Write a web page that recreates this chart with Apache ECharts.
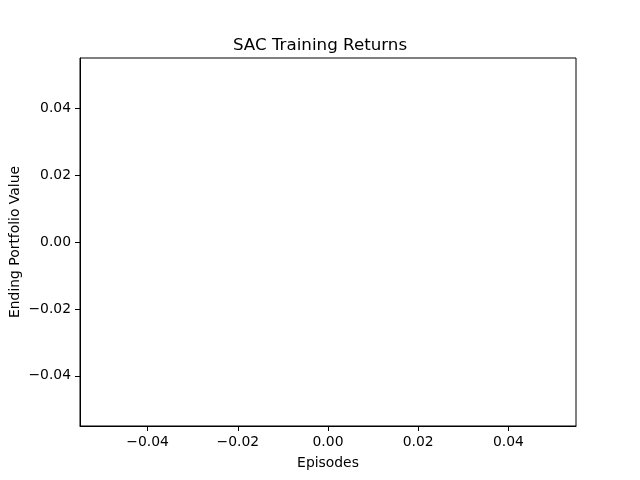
<!DOCTYPE html>
<html>
<head>
<meta charset="utf-8">
<script src="https://cdn.jsdelivr.net/npm/echarts@6/dist/echarts.min.js"></script>
<style>
  html, body { margin: 0; padding: 0; background: #fff; }
  #chart { width: 640px; height: 480px; }
</style>
</head>
<body>
<div id="chart"></div>
<script>
// the run logged no episodes, so both series arrays are empty
const episodes = []
const portfolioValues = []

// default matplotlib view for empty data
const axisMin = -0.055
const axisMax = 0.055
const xTicks = [-0.04, -0.02, 0, 0.02, 0.04]
const yTicks = [-0.04, -0.02, 0, 0.02, 0.04]

const fmt = v => (v < 0 ? '\u2212' : '') + Math.abs(v).toFixed(2)

let mychart = echarts.init(document.getElementById('chart'))

let option
option = {
  animation: false,
  backgroundColor: '#fff',
  textStyle: { fontFamily: 'DejaVu Sans' },
  title: {
    text: 'SAC Training Returns',
    left: 'center',
    top: 32,
    textStyle: { fontFamily: 'DejaVu Sans', fontSize: 16.7, fontWeight: 'normal', color: '#000' }
  },
  grid: {
    left: 80,
    right: 64,
    top: 58,
    bottom: 54,
    outerBoundsMode: 'none',
    containLabel: false,
    show: true,
    borderColor: '#000',
    borderWidth: 1
  },
  xAxis: {
    type: 'value',
    min: axisMin,
    max: axisMax,
    name: 'Episodes',
    nameLocation: 'middle',
    nameGap: 30,
    nameMoveOverlap: false,
    nameTextStyle: { fontFamily: 'DejaVu Sans', fontSize: 13.9, color: '#000' },
    axisLine: { show: true, onZero: false, lineStyle: { color: '#000', width: 1 } },
    axisTick: { show: true, length: 5, customValues: xTicks, lineStyle: { color: '#000' } },
    axisLabel: {
      customValues: xTicks,
      margin: 9,
      fontSize: 13.9,
      color: '#000',
      formatter: fmt
    },
    splitLine: { show: false }
  },
  yAxis: {
    type: 'value',
    min: axisMin,
    max: axisMax,
    name: 'Ending Portfolio Value',
    nameLocation: 'middle',
    nameGap: 58,
    nameMoveOverlap: false,
    nameTextStyle: { fontFamily: 'DejaVu Sans', fontSize: 13.9, color: '#000' },
    axisLine: { show: true, onZero: false, lineStyle: { color: '#000', width: 1 } },
    axisTick: { show: true, length: 5, customValues: yTicks, lineStyle: { color: '#000' } },
    axisLabel: {
      customValues: yTicks,
      margin: 9,
      fontSize: 13.9,
      color: '#000',
      formatter: fmt
    },
    splitLine: { show: false }
  },
  series: [
    {
      type: 'line',
      data: episodes.map((e, i) => [e, portfolioValues[i]]),
      lineStyle: { color: '#1f77b4', width: 1.5 },
      showSymbol: false
    }
  ]
}
mychart.setOption(option)
</script>
</body>
</html>
